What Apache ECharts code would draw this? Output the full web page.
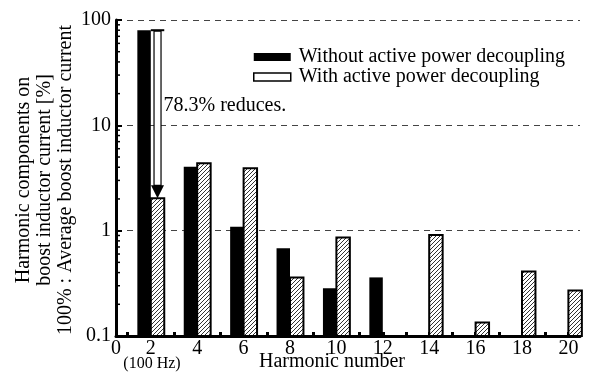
<!DOCTYPE html>
<html>
<head>
<meta charset="utf-8">
<script src="https://cdn.jsdelivr.net/npm/echarts@6/dist/echarts.min.js"></script>
<style>
  html, body { margin: 0; padding: 0; background: #fff; }
  #chart { width: 594px; height: 373px; }
</style>
</head>
<body>
<div id="chart"></div>
<script>
// harmonic content of boost inductor current [%]
const harmonics = [2, 4, 6, 8, 10, 12, 14, 16, 18, 20];
const withoutApd = [80, 4.05, 1.09, 0.68, 0.284, 0.36, null, null, null, null];
const withApd = [2.03, 4.36, 3.91, 0.36, 0.86, null, 0.91, 0.134, 0.41, 0.27];

const xLabelValues = [0.5, 2, 4, 6, 8, 10, 12, 14, 16, 18, 20];
const xLabelText = ['0', '2', '4', '6', '8', '10', '12', '14', '16', '18', '20'];
const xTickValues = [1, 2, 3, 4, 5, 6, 7, 8, 9, 10, 11, 12, 13, 14, 15, 16, 17, 18, 19, 20];
const yMinorTicks = [0.2, 0.3, 0.4, 0.5, 0.6, 0.7, 0.8, 0.9,
  2, 3, 4, 5, 6, 7, 8, 9, 20, 30, 40, 50, 60, 70, 80, 90];
const reduction = [2, 80, 2.03];
const reductionText = '78.3% reduces.';

const X_MIN = 0.5, X_MAX = 20.5;
const BAR_UNITS = 0.58;
const FONT = 'Liberation Serif';

const toPairs = vals => harmonics
  .map((h, i) => [h, vals[i]])
  .filter(d => d[1] != null);

// diagonal hatch for the "with APD" bars
const hatch = document.createElement('canvas');
hatch.width = 4; hatch.height = 4;
const hc = hatch.getContext('2d');
hc.fillStyle = '#fff';
hc.fillRect(0, 0, 4, 4);
hc.strokeStyle = '#333';
hc.lineWidth = 1;
hc.beginPath();
hc.moveTo(0, 4); hc.lineTo(4, 0);
hc.moveTo(-1, 1); hc.lineTo(1, -1);
hc.moveTo(3, 5); hc.lineTo(5, 3);
hc.stroke();
const hatchFill = { image: hatch, repeat: 'repeat' };

function barRenderer(side, style) {
  return function (params, api) {
    const h = api.value(0), v = api.value(1);
    const top = api.coord([h, v]);
    const base = api.coord([h, 0.1]);
    const w = api.coord([h + BAR_UNITS, v])[0] - top[0];
    const x = side < 0 ? top[0] - w : top[0];
    return {
      type: 'rect',
      shape: { x: x, y: top[1], width: w, height: base[1] - top[1] },
      style: style
    };
  };
}

const chart = echarts.init(document.getElementById('chart'), null, { renderer: 'canvas' });

chart.setOption({
  animation: false,
  backgroundColor: '#fff',
  textStyle: { fontFamily: FONT, color: '#000' },
  grid: { left: 116, right: 14, top: 20, bottom: 37 },
  legend: {
    orient: 'vertical',
    left: 253,
    top: 47,
    padding: 0,
    itemGap: 0,
    itemWidth: 37,
    itemHeight: 8,
    textStyle: { fontFamily: FONT, fontSize: 20, color: '#000', padding: [0, 0, 0, 3] },
    data: [
      { name: 'Without active power decoupling', icon: 'rect',
        itemStyle: { color: '#000', borderWidth: 0 } },
      { name: 'With active power decoupling', icon: 'rect',
        itemStyle: { color: '#fff', borderColor: '#000', borderWidth: 1.5 } }
    ]
  },
  xAxis: {
    type: 'value',
    min: X_MIN,
    max: X_MAX,
    axisLine: { show: true, onZero: false, lineStyle: { color: '#000', width: 3 } },
    axisTick: { show: true, inside: true, length: 4, customValues: xTickValues,
      lineStyle: { color: '#000', width: 3 } },
    axisLabel: {
      customValues: xLabelValues,
      formatter: v => xLabelText[xLabelValues.indexOf(v)],
      fontFamily: FONT, fontSize: 20, color: '#000', margin: 3
    },
    splitLine: { show: false }
  },
  yAxis: {
    type: 'log',
    logBase: 10,
    min: 0.1,
    max: 100,
    axisLine: { show: true, lineStyle: { color: '#000', width: 3 } },
    axisTick: { show: true, inside: true, length: 6, lineStyle: { color: '#000', width: 2 } },
    axisLabel: { fontFamily: FONT, fontSize: 20, color: '#000', margin: 5 },
    splitLine: { show: true, lineStyle: { color: '#444', width: 1, type: [6, 5] } }
  },
  graphic: [
    {
      type: 'text',
      x: 45, y: 180,
      rotation: Math.PI / 2,
      style: {
        text: 'Harmonic components on\nboost inductor current [%]\n100% : Average boost inductor current',
        font: '20px "Liberation Serif"',
        fill: '#000',
        align: 'center',
        verticalAlign: 'middle',
        lineHeight: 21
      }
    },
    {
      type: 'text',
      x: 332, y: 362,
      style: { text: 'Harmonic number', font: '20px "Liberation Serif"', fill: '#000',
        align: 'center', verticalAlign: 'middle' }
    },
    {
      type: 'text',
      x: 152, y: 364,
      style: { text: '(100 Hz)', font: '16px "Liberation Serif"', fill: '#000',
        align: 'center', verticalAlign: 'middle' }
    }
  ],
  series: [
    {
      name: 'Without active power decoupling',
      type: 'custom',
      coordinateSystem: 'cartesian2d',
      itemStyle: { color: '#000' },
      encode: { x: 0, y: 1 },
      data: toPairs(withoutApd),
      renderItem: barRenderer(-1, { fill: '#000' }),
      z: 3
    },
    {
      name: 'With active power decoupling',
      type: 'custom',
      coordinateSystem: 'cartesian2d',
      itemStyle: { color: '#fff', borderColor: '#000', borderWidth: 1.5 },
      encode: { x: 0, y: 1 },
      data: toPairs(withApd),
      renderItem: barRenderer(1, { fill: hatchFill, stroke: '#000', lineWidth: 2 }),
      z: 3
    },
    {
      // minor ticks of the log axis
      name: 'yMinor',
      type: 'custom',
      coordinateSystem: 'cartesian2d',
      encode: { x: 0, y: 1 },
      data: yMinorTicks.map(v => [X_MIN, v]),
      renderItem: function (params, api) {
        const p = api.coord([api.value(0), api.value(1)]);
        return {
          type: 'line',
          shape: { x1: p[0], y1: p[1], x2: p[0] + 4, y2: p[1] },
          style: { stroke: '#000', lineWidth: 1.5 }
        };
      },
      silent: true,
      z: 4
    },
    {
      // reduction arrow at 2nd harmonic
      name: 'reduction',
      type: 'custom',
      coordinateSystem: 'cartesian2d',
      encode: { x: 0, y: 1 },
      data: [reduction],
      renderItem: function (params, api) {
        const h = api.value(0);
        const top = api.coord([h, api.value(1)]);
        const bot = api.coord([h, api.value(2)]);
        const w = api.coord([h + BAR_UNITS, api.value(1)])[0] - top[0];
        const cx = top[0] + w / 2;
        const headH = 13;
        return {
          type: 'group',
          children: [
            { type: 'line', shape: { x1: top[0], y1: top[1], x2: top[0] + w, y2: top[1] },
              style: { stroke: '#000', lineWidth: 2 } },
            { type: 'rect', shape: { x: cx - 3.5, y: top[1] + 1, width: 7, height: bot[1] - headH - top[1] - 1 },
              style: { fill: '#fff', stroke: '#000', lineWidth: 1.2 } },
            { type: 'polygon', shape: { points: [[cx - 6.5, bot[1] - headH], [cx + 6.5, bot[1] - headH], [cx, bot[1]]] },
              style: { fill: '#000' } },
            { type: 'text', x: cx + 6, y: (top[1] + bot[1]) / 2 - 8,
              style: { text: reductionText, font: '20px "Liberation Serif"', fill: '#000',
                align: 'left', verticalAlign: 'middle' } }
          ]
        };
      },
      silent: true,
      z: 5
    }
  ]
});
</script>
</body>
</html>
